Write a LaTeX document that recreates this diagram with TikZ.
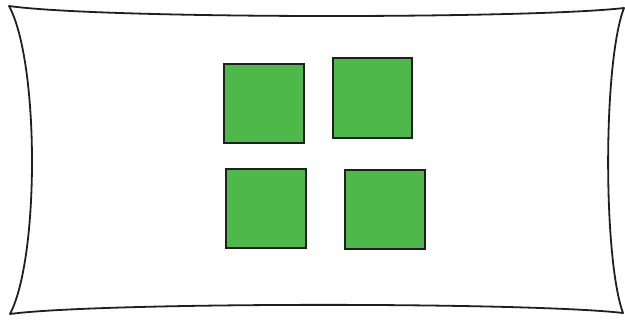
\documentclass[tikz,border=0pt]{standalone}
\begin{document}
\begin{tikzpicture}[x=1pt,y=-1pt,
  outline/.style={draw=black!88,line width=1.8pt,line join=round},
  greensq/.style={draw=black!88,line width=1.6pt,fill={rgb,255:red,79;green,184;blue,74}}]
\useasboundingbox (0,0) rectangle (625,320);
\coordinate (tl) at (9,6);
\coordinate (tr) at (624,8);
\coordinate (br) at (623,313);
\coordinate (bl) at (10,314);
\draw[outline] (tl) .. controls (100,19) and (530,19) .. (tr)
  .. controls (603,62) and (603,258) .. (br)
  .. controls (530,302) and (100,302) .. (bl)
  .. controls (39.5,258) and (39.5,62) .. cycle;
\path[greensq] (224,64) rectangle (304,143) coordinate (s1);
\path[greensq] (333,58) rectangle (412,138) coordinate (s2);
\path[greensq] (226,169) rectangle (306,248) coordinate (s3);
\path[greensq] (345,170) rectangle (425,249) coordinate (s4);
\end{tikzpicture}
\end{document}
